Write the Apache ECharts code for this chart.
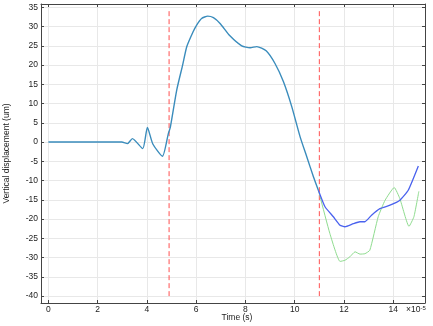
<!DOCTYPE html>
<html><head><meta charset="utf-8">
<script src="https://cdn.jsdelivr.net/npm/echarts@6/dist/echarts.min.js"></script>
<style>html,body{margin:0;padding:0;background:#fff}#c{width:433px;height:326px}</style>
</head><body><div id="c"></div>
<script>
// time in units of 1e-5 s, displacement in um
var commonX = [0, 1, 2, 2.98, 3.21, 3.41, 3.83, 4.02, 4.24, 4.63, 4.87, 4.95, 5.21, 5.45, 5.62, 5.88, 6.02, 6.22, 6.47, 6.70, 6.97, 7.37, 7.85, 8.19, 8.46, 8.84, 9.20, 9.54, 9.88, 10.22, 10.50, 10.76, 10.96];
var commonY = [0, 0, 0, 0, -0.4, 0.9, -1.7, 3.8, -0.5, -3.7, 2.2, 3.8, 13.5, 20.0, 24.8, 28.7, 30.4, 32.1, 32.7, 32.3, 30.8, 27.6, 25.0, 24.5, 24.8, 23.7, 20.4, 15.7, 9.2, 1.35, -4.0, -9.0, -12.5];
var blueX = [10.96, 11.23, 11.57, 11.84, 12.04, 12.38, 12.65, 12.85, 13.12, 13.46, 13.87, 14.27, 14.61, 15.02];
var blueY = [-12.5, -16.8, -19.4, -21.6, -22.0, -21.2, -20.7, -20.7, -19.0, -17.3, -16.4, -15.1, -12.5, -6.2];
var greenX = [10.96, 11.03, 11.43, 11.84, 12.04, 12.24, 12.45, 12.65, 12.85, 13.05, 13.39, 13.67, 14.04, 14.27, 14.64, 14.84, 15.04];
var greenY = [-12.5, -14.2, -23.8, -31.0, -30.7, -29.8, -28.5, -29.1, -29.0, -28.1, -19.4, -15.1, -11.8, -14.7, -21.9, -19.4, -12.8];
var markerTimes = [4.9, 11.0];
var markerRange = [34, -40];
var xTicks = [0, 2, 4, 6, 8, 10, 12, 14];
var yTicks = [-40, -35, -30, -25, -20, -15, -10, -5, 0, 5, 10, 15, 20, 25, 30, 35];

function pairs(xs, ys) { return xs.map(function (x, i) { return [x, ys[i]]; }); }

var FONT = 'Liberation Sans';
var X_MIN = -0.3, X_MAX = 15.29, Y_MIN = -41.8, Y_MAX = 35.86;
var axisLineStyle = { color: '#444', width: 1 };

function xAxisCfg(pos, labels) {
  return {
    type: 'value', position: pos, min: X_MIN, max: X_MAX,
    axisLine: { show: true, onZero: false, lineStyle: axisLineStyle },
    axisTick: { show: true, inside: true, length: 3, customValues: xTicks, lineStyle: { color: '#444' } },
    axisLabel: { show: labels, customValues: xTicks, fontSize: 8.5, color: '#222', fontFamily: FONT, margin: 2 },
    splitLine: { show: labels, lineStyle: { color: '#e8e8e8', width: 1 } },
    name: labels ? 'Time (s)' : '', nameLocation: 'middle', nameGap: 10, nameMoveOverlap: false,
    nameTextStyle: { fontSize: 8.5, color: '#222', fontFamily: FONT, padding: [0, 0, 0, 8] }
  };
}
function yAxisCfg(pos, labels) {
  return {
    type: 'value', position: pos, min: Y_MIN, max: Y_MAX,
    axisLine: { show: true, onZero: false, lineStyle: axisLineStyle },
    axisTick: { show: true, inside: true, length: 3, customValues: yTicks, lineStyle: { color: '#444' } },
    axisLabel: { show: labels, customValues: yTicks, fontSize: 8.5, color: '#222', fontFamily: FONT, margin: 3 },
    splitLine: { show: labels, lineStyle: { color: '#e8e8e8', width: 1 } },
    name: labels ? 'Vertical displacement (um)' : '', nameLocation: 'middle', nameGap: 30, nameMoveOverlap: false,
    nameTextStyle: { fontSize: 8.5, color: '#222', fontFamily: FONT }
  };
}

var series = [];
markerTimes.forEach(function (t) {
  series.push({
    type: 'line', xAxisIndex: 0, yAxisIndex: 0, symbol: 'none', silent: true,
    data: [[t, markerRange[0]], [t, markerRange[1]]],
    lineStyle: { color: '#ff5050', width: 1, type: [5, 3] }, z: 2
  });
});
series.push({ type: 'line', name: 'common', symbol: 'none', smooth: 0.2, data: pairs(commonX, commonY),
  lineStyle: { color: '#3a8cbc', width: 1.4 }, z: 4 });
series.push({ type: 'line', name: 'green', symbol: 'none', smooth: 0.15, data: pairs(greenX, greenY),
  lineStyle: { color: '#8fdc8f', width: 1 }, z: 3 });
series.push({ type: 'line', name: 'blue', symbol: 'none', smooth: 0.15, data: pairs(blueX, blueY),
  lineStyle: { color: '#4a62ee', width: 1.3 }, z: 4 });

var chart = echarts.init(document.getElementById('c'), null, { renderer: 'canvas' });
chart.setOption({
  animation: false,
  backgroundColor: '#fff',
  grid: { left: 41, top: 4, right: 8, bottom: 23, containLabel: false, outerBoundsMode: 'none' },
  xAxis: [xAxisCfg('bottom', true), xAxisCfg('top', false)],
  yAxis: [yAxisCfg('left', true), yAxisCfg('right', false)],
  series: series,
  graphic: [{
    type: 'text', left: 406, top: 305,
    style: { rich: { a: { fontSize: 8.5, fontFamily: FONT, fill: '#222' }, s: { fontSize: 6, fontFamily: FONT, fill: '#222', verticalAlign: 'top', padding: [0, 0, 4, 0] } },
      text: '{a|×10}{s|-5}' }
  }]
});
</script></body></html>
